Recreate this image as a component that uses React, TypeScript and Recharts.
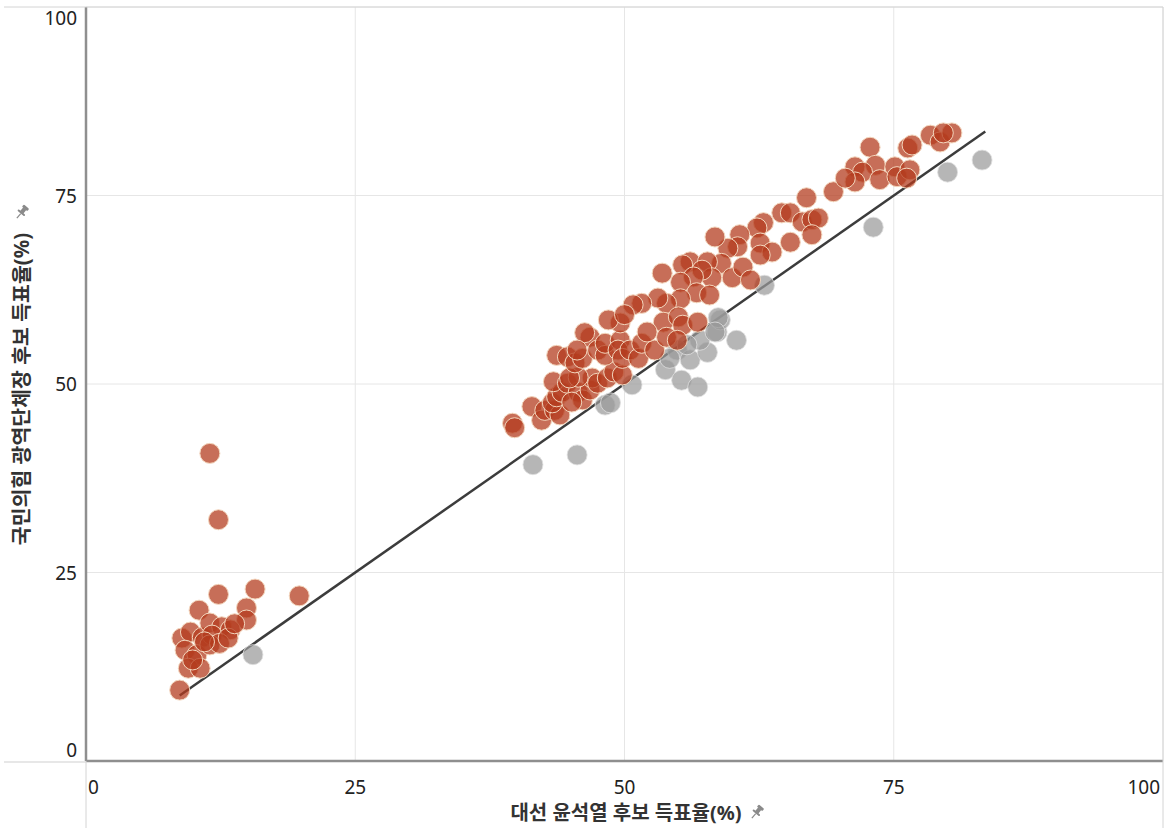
import React from "react";
import { ScatterChart, Scatter, XAxis, YAxis, CartesianGrid, ReferenceLine } from "recharts";

// 국민의힘 후보 득표율이 윤석열 득표율보다 높은 지역 (red)
const upX = [
  11.5, 12.3, 12.3, 15.7, 19.8, 10.5, 14.9, 14.9, 8.9, 9.7, 10.8, 11.5, 12.6, 13.4, 11.7, 9.2, 10.3, 11.5, 12.4,
  13.2, 11.0, 9.5, 10.6, 8.7, 13.8, 9.9,
  39.6, 39.8, 41.4, 42.3, 42.6, 43.5, 44.0, 43.3, 43.7, 44.2, 43.4, 44.7, 45.7, 46.1, 45.1, 46.8, 47.0, 45.7, 44.9,
  47.5, 48.4, 49.0, 49.8, 43.7, 44.7, 45.4, 46.1, 46.8, 46.3, 45.6, 47.5, 48.2, 48.2, 49.6, 49.4, 49.8, 50.5, 51.3,
  51.6, 52.8,
  66.9, 69.4, 64.6, 65.4, 66.5, 67.4, 68.0, 67.4, 65.4, 62.9, 62.3, 62.6, 63.7, 62.6, 60.7, 60.5, 59.6, 58.4, 59.0,
  60.0, 61.0, 61.7, 56.1, 55.4, 57.7, 58.1, 57.2, 56.4, 55.2, 53.5, 56.7, 57.9, 55.2, 53.9, 53.1, 51.6, 50.8, 53.6,
  55.0, 55.4, 56.8, 52.1, 49.6, 48.5, 50.0, 53.9, 54.9,
  72.8, 76.3, 76.7, 78.4, 79.3, 80.4, 79.6, 71.4, 73.3, 72.1, 71.4, 73.7, 75.1, 75.3, 76.5, 76.2, 70.5,
];
const upY = [
  40.8, 32.0, 22.1, 22.8, 21.9, 20.0, 20.3, 18.7, 16.3, 17.1, 16.4, 18.3, 17.8, 17.4, 16.7, 14.7, 14.1, 15.4, 15.6,
  16.3, 15.8, 12.3, 12.3, 9.4, 18.2, 13.4,
  44.8, 44.2, 47.0, 45.2, 46.5, 46.5, 45.9, 47.5, 48.3, 48.9, 50.3, 50.1, 48.9, 47.9, 47.6, 49.2, 50.8, 50.9, 50.8,
  50.1, 50.8, 51.6, 51.2, 53.8, 53.6, 52.8, 53.4, 56.2, 56.8, 54.5, 54.5, 53.8, 55.4, 55.8, 54.5, 53.4, 54.5, 53.4,
  55.4, 54.5,
  74.7, 75.5, 72.7, 72.7, 71.5, 71.8, 72.0, 69.8, 68.8, 71.4, 70.7, 68.7, 67.5, 67.1, 69.8, 68.2, 68.0, 69.5, 66.0,
  64.1, 65.5, 63.8, 66.2, 65.8, 66.2, 64.1, 65.1, 64.2, 63.5, 64.7, 62.1, 61.8, 61.3, 60.7, 61.4, 60.7, 60.5, 58.2,
  58.9, 57.8, 58.2, 56.9, 58.1, 58.5, 59.2, 56.2, 55.8,
  81.4, 81.3, 81.7, 83.0, 82.1, 83.3, 83.3, 78.8, 79.0, 78.1, 76.8, 77.1, 78.8, 77.5, 78.4, 77.3, 77.3,
];

// 낮은 지역 (gray)
const downX = [
  15.5, 41.5, 45.6, 48.2, 48.7, 50.7, 53.8, 55.3, 56.8, 54.9, 56.1, 57.7, 57.0, 58.6, 58.9, 60.4, 55.8, 54.2, 63.0,
  58.7, 58.4, 80.0, 83.2, 73.1,
];
const downY = [
  14.1, 39.3, 40.6, 47.2, 47.5, 49.9, 51.9, 50.5, 49.6, 54.5, 53.2, 54.2, 55.8, 56.9, 58.5, 55.8, 55.2, 53.4, 63.1,
  58.8, 56.9, 78.1, 79.7, 70.8,
];

const ticks = [0, 25, 50, 75, 100];
const lineStart = 8.7;
const lineEnd = 83.5;

const upData = upX.map((x, i) => ({ x, y: upY[i] }));
const downData = downX.map((x, i) => ({ x, y: downY[i] }));

const W = 1168;
const H = 828;
const LEFT = 86;
const RIGHT = 1163;
const TOP = 7;
const BOTTOM = 761;
const FONT = "'Noto Sans', 'Noto Sans CJK KR', sans-serif";

const Pin = ({ x, y }: { x: number; y: number }) => (
  <g transform={`translate(${x},${y}) rotate(40)`} fill="#8a8a8a">
    <rect x={-3.5} y={-7} width={7} height={3} rx={1} />
    <rect x={-2} y={-4.5} width={4} height={5} />
    <rect x={-4.5} y={0} width={9} height={2} rx={1} />
    <rect x={-0.6} y={2} width={1.2} height={6} />
  </g>
);

const XTick = (props: any) => {
  const { x, y, payload } = props;
  const v = payload.value;
  const anchor = v === 0 ? "start" : v === 100 ? "end" : "middle";
  const dx = v === 0 ? 2 : v === 100 ? -3 : 0;
  return (
    <text x={x + dx} y={y + 25} textAnchor={anchor} fontSize={19} fill="#222" fontFamily={FONT}>
      {v}
    </text>
  );
};

const YTick = (props: any) => {
  const { y, payload } = props;
  const v = payload.value;
  const dy = v === 100 ? 11 : v === 0 ? -11 : 0;
  return (
    <text x={LEFT - 9} y={y + dy + 7} textAnchor="end" fontSize={19} fill="#222" fontFamily={FONT}>
      {v}
    </text>
  );
};

const redDot = (p: any) => (
  <circle cx={p.cx} cy={p.cy} r={10} fill="#b43c1e" fillOpacity={0.74} stroke="#f3d6bd" strokeWidth={1} />
);
const grayDot = (p: any) => (
  <circle cx={p.cx} cy={p.cy} r={10} fill="#9a9a9a" fillOpacity={0.72} stroke="#e0e0e0" strokeWidth={0.8} />
);

export default function App() {
  return (
    <div style={{ position: "absolute", left: 0, top: 0, width: W, height: H, background: "#fff" }}>
      <ScatterChart width={W} height={H} margin={{ top: TOP, right: W - RIGHT, bottom: 0, left: 0 }}>
        <CartesianGrid stroke="#e6e6e6" strokeWidth={1} />
        <XAxis
          type="number"
          dataKey="x"
          domain={[0, 100]}
          ticks={ticks}
          height={H - BOTTOM}
          tickLine={false}
          axisLine={{ stroke: "#8f8f8f", strokeWidth: 2.5 }}
          tick={<XTick />}
          interval={0}
        />
        <YAxis
          type="number"
          dataKey="y"
          domain={[0, 100]}
          ticks={ticks}
          width={LEFT}
          tickLine={false}
          axisLine={{ stroke: "#8f8f8f", strokeWidth: 2.5 }}
          tick={<YTick />}
          interval={0}
        />
        <Scatter data={downData} shape={grayDot} isAnimationActive={false} />
        <Scatter data={upData} shape={redDot} isAnimationActive={false} />
        <ReferenceLine
          segment={[
            { x: lineStart, y: lineStart },
            { x: lineEnd, y: lineEnd },
          ]}
          stroke="#3c3c3c"
          strokeWidth={2.5}
        />
      </ScatterChart>
      <svg width={W} height={H} style={{ position: "absolute", left: 0, top: 0, pointerEvents: "none" }}>
        <line x1={4} x2={RIGHT} y1={TOP} y2={TOP} stroke="#d4d4d4" />
        <line x1={RIGHT} x2={RIGHT} y1={TOP} y2={H} stroke="#d4d4d4" />
        <line x1={4} x2={LEFT} y1={BOTTOM + 1} y2={BOTTOM + 1} stroke="#cfcfcf" />
        <line x1={LEFT} x2={LEFT} y1={BOTTOM} y2={H} stroke="#d4d4d4" />
        <text
          x={626}
          y={820}
          textAnchor="middle"
          fontSize={20}
          fontWeight={700}
          fill="#333"
          fontFamily={FONT}
        >
          대선 윤석열 후보 득표율(%)
        </text>
        <Pin x={757} y={812} />
        <text
          transform="translate(29,389) rotate(-90)"
          textAnchor="middle"
          fontSize={20.5}
          fontWeight={700}
          fill="#333"
          fontFamily={FONT}
        >
          국민의힘 광역단체장 후보 득표율(%)
        </text>
        <Pin x={22} y={212} />
      </svg>
    </div>
  );
}
